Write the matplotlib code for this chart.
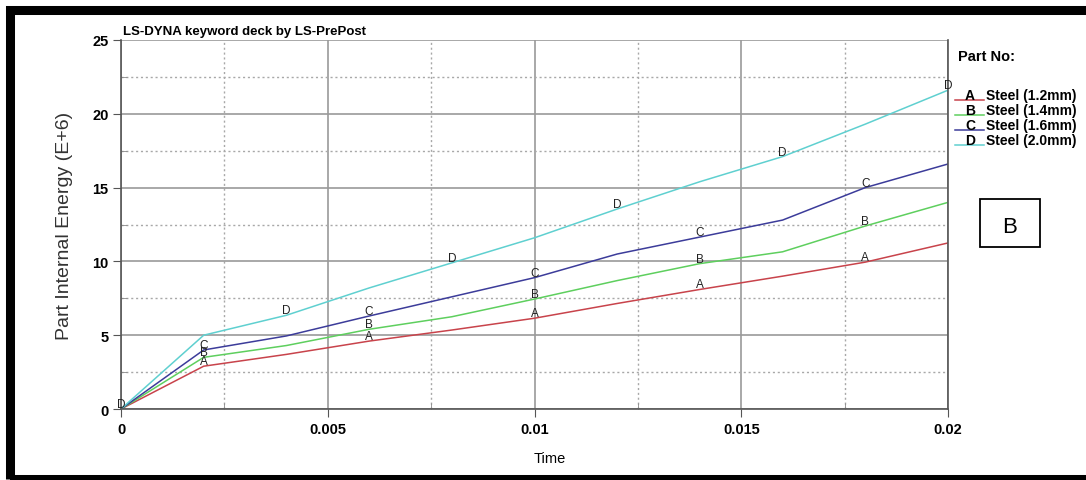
import matplotlib
matplotlib.use('Agg')
import matplotlib.pyplot as plt
from matplotlib.lines import Line2D
from matplotlib.patches import Rectangle
from matplotlib.ticker import MultipleLocator

# data
time = [0, 0.002, 0.004, 0.006, 0.008, 0.01, 0.012, 0.014, 0.016, 0.018, 0.02]
energy_a = [0, 2.9, 3.7, 4.6, 5.35, 6.15, 7.15, 8.1, 9.0, 9.95, 11.25]
energy_b = [0, 3.5, 4.3, 5.4, 6.25, 7.45, 8.7, 9.85, 10.65, 12.4, 14.0]
energy_c = [0, 4.0, 4.95, 6.3, 7.6, 8.9, 10.5, 11.65, 12.8, 15.0, 16.6]
energy_d = [0, 5.0, 6.35, 8.2, 9.9, 11.6, 13.55, 15.4, 17.1, 19.3, 21.6]

letters = ['A', 'B', 'C', 'D']
names = ['Steel (1.2mm)', 'Steel (1.4mm)', 'Steel (1.6mm)', 'Steel (2.0mm)']
colors = ['#c8434b', '#5ecf5e', '#3c3c9a', '#5fd0d0']
series = [energy_a, energy_b, energy_c, energy_d]
# which points carry a letter (A-C on odd points, D on even points)
label_idx = [[1, 3, 5, 7, 9], [1, 3, 5, 7, 9], [1, 3, 5, 7, 9], [0, 2, 4, 6, 8, 10]]

W, H = 1086, 481
plt.rcParams['font.family'] = ['Liberation Sans', 'DejaVu Sans']
plt.rcParams['font.weight'] = 'bold'

fig = plt.figure(figsize=(W / 100, H / 100), dpi=100)
ax = fig.add_axes([121 / W, 1 - 410 / H, (948 - 121) / W, (410 - 41) / H])

for y, c, let, idx in zip(series, colors, letters, label_idx):
    ax.plot(time, y, color=c, lw=1.1)
    for i in idx:
        ax.annotate(let, (time[i], y[i]), xytext=(0, 5), textcoords='offset pixels',
                    ha='center', va='center', fontsize=8.5, fontweight='normal',
                    color='#222222', annotation_clip=False)

ax.set_xlim(0, 0.02)
ax.set_ylim(0, 25)
ax.xaxis.set_major_locator(MultipleLocator(0.005))
ax.xaxis.set_minor_locator(MultipleLocator(0.0025))
ax.yaxis.set_major_locator(MultipleLocator(5))
ax.yaxis.set_minor_locator(MultipleLocator(2.5))
ax.set_xticks([0, 0.005, 0.01, 0.015, 0.02])
ax.set_xticklabels(['0', '0.005', '0.01', '0.015', '0.02'])

ax.grid(which='major', color='#9a9a9a', lw=1.2, ls='-')
ax.grid(which='minor', color='#a8a8a8', lw=1.0, ls=(0, (1.5, 2)))
# no grid line along the top edge
ax.get_ygridlines()[-1].set_visible(False)
ax.tick_params(which='major', direction='out', length=6, color='#555555',
               labelsize=10.5, pad=3)
ax.tick_params(which='minor', direction='in', length=4, color='#888888')
for s in ['left', 'bottom', 'right']:
    ax.spines[s].set_color('#555555')
    ax.spines[s].set_linewidth(1.2)
ax.spines['top'].set_visible(False)

ax.set_ylabel('Part Internal Energy (E+6)', fontsize=14, fontweight='normal',
              color='#333333', labelpad=14)
ax.set_xlabel('Time', fontsize=10.5)
ax.xaxis.set_label_coords((550 - 121) / (948 - 121), -0.115)

fig.text(123 / W, 1 - 32 / H, 'LS-DYNA keyword deck by LS-PrePost', fontsize=9.5,
         ha='left', va='center')

# legend block
fig.text(958 / W, 1 - 57 / H, 'Part No:', fontsize=10.5, ha='left', va='center')
for k in range(4):
    yy = 96 + 15 * k
    fig.add_artist(Line2D([955 / W, 984 / W], [1 - (yy + 5) / H] * 2,
                          color=colors[k], lw=1.1))
    fig.text(970 / W, 1 - yy / H, letters[k], fontsize=10, ha='center', va='center')
    fig.text(986 / W, 1 - yy / H, names[k], fontsize=10, ha='left', va='center')

# boxed panel letter
fig.add_artist(Rectangle((980 / W, 1 - 248 / H), 60 / W, 48 / H, fill=False,
                         ec='black', lw=1.3, transform=fig.transFigure))
fig.text(1010 / W, 1 - 228 / H, 'B', fontsize=16, fontweight='normal',
         ha='center', va='center')

# thick outer frame
fig.add_artist(Rectangle((9.5 / W, 1 - 480 / H), 1200 / W, 469 / H, fill=False,
                         ec='black', lw=6.5, transform=fig.transFigure, clip_on=False))

fig.savefig('out.png', dpi=100)
